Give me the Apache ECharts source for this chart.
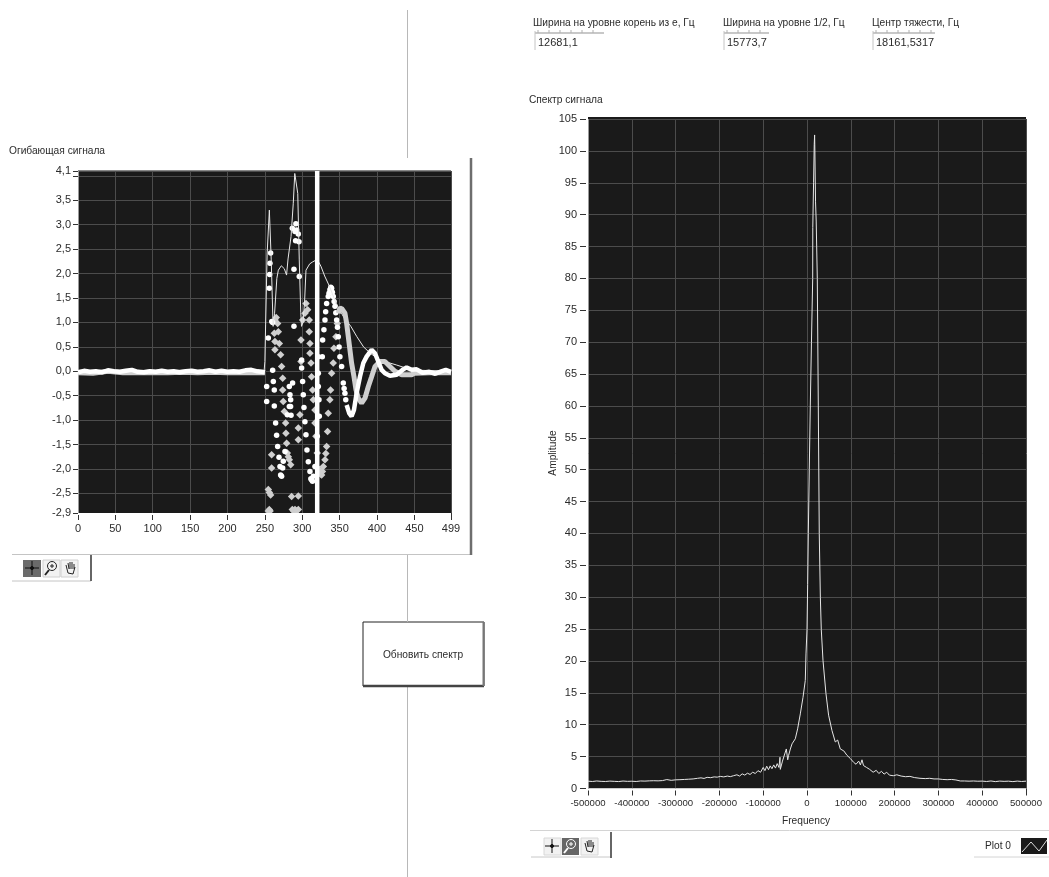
<!DOCTYPE html>
<html><head><meta charset="utf-8">
<style>html,body{margin:0;padding:0;background:#fff}#c{width:1049px;height:877px}</style>
<script src="https://cdn.jsdelivr.net/npm/echarts@6/dist/echarts.min.js"></script>
</head><body><div id="c"></div>
<script>
var envelope=[[0,0],[100,0.02],[200,0],[249,0.01],[250,0.2],[251,0.95],[253,2.4],[256,3.3],[257,3.34],[258.5,2.28],[261,0.92],[263,1.19],[266,1.9],[268,2.07],[272,2.16],[276,2.1],[279,1.97],[281,2.3],[285,2.76],[288,3.44],[290,4.05],[292,4.09],[294,3.64],[296,2.28],[298,1.2],[299,0.92],[301,1.0],[303,1.39],[305,2.07],[310,2.2],[314,2.24],[320,2.29],[325,2.15],[330,1.95],[337,1.72],[345,1.4],[355,1.12],[365,0.92],[373,0.71],[382,0.5],[391,0.37],[404,0.23],[415,0.18],[426,0.13],[440,0.06],[460,0.02],[499,0]];
var bandWhiteLeft=[[0,-0.02],[8,0.01],[16,-0.01],[24,0],[32,-0.02],[40,0.02],[48,0],[56,-0.01],[64,0.01],[72,0.03],[80,-0.01],[88,-0.02],[96,0],[104,-0.01],[112,0.01],[120,-0.01],[128,0],[136,-0.02],[144,0],[152,0.01],[160,-0.01],[168,0],[176,0.02],[184,-0.01],[192,0.01],[200,-0.01],[208,0],[216,-0.01],[224,0.02],[232,0.03],[240,0],[246,-0.01],[250,-0.02]];
var bandGreyLeft=[[0,-0.03],[20,-0.04],[40,0],[60,-0.03],[80,-0.03],[100,-0.03],[120,-0.03],[140,-0.02],[160,-0.03],[180,-0.02],[200,-0.03],[220,-0.03],[240,-0.03],[250,-0.03]];
var whiteDots=[[254.6,0.68],[255.9,1.7],[256.8,2.21],[257.7,2.42],[256.4,1.98],[260.4,1.0],[259.2,1.02],[260.4,0.02],[252.4,-0.31],[261.3,-0.21],[262.6,-0.38],[252.4,-0.62],[262.6,-0.71],[264.4,-1.06],[265.7,-1.31],[267.1,-1.54],[268.9,-1.76],[270.2,-1.95],[271.1,-2.12],[272.4,-2.15],[273.8,-1.98],[274.6,-1.84],[276.9,-1.64],[280,-0.89],[282.7,-0.72],[284.5,-0.58],[283.6,-0.48],[284.4,-0.72],[285,-0.9],[287.1,-0.24],[282.7,-0.31],[288.9,0.92],[288.9,2.09],[286.7,2.93],[290.3,2.86],[292.5,2.89],[291.5,3.02],[294.7,2.81],[295.6,2.65],[291.1,2.67],[296,1.94],[299.2,0.23],[299.2,0.07],[300.5,-0.21],[301.4,-0.48],[302.3,-0.74],[303.6,-1.03],[305,-1.3],[306.3,-1.61],[308.1,-1.85],[310.3,-2.05],[311.5,-2.2],[312.5,-2.22],[313.7,-2.25],[314.8,-2.15],[317,-1.95],[320.1,-1.33],[321.5,0.3],[321.5,-0.04],[321.5,-0.31],[322.4,-0.58],[322.8,-0.92],[326.8,0.3],[327.3,0.64],[329,0.85],[330.4,1.05],[331.3,1.22],[332.6,1.39],[334.8,1.53],[335.8,1.6],[337,1.67],[338.2,1.72],[339.3,1.7],[340.3,1.62],[341.5,1.53],[342.6,1.43],[343.8,1.33],[344.9,1.2],[346,1.05],[347.1,0.9],[348.2,0.71],[349.3,0.5],[350.4,0.3],[352.7,0.1],[354.9,-0.24],[356,-0.35],[357.1,-0.45],[358.2,-0.58]];
var whiteBandRight=[[359.4,-0.69],[362.9,-0.86],[366,-0.92],[369.2,-0.79],[372.7,-0.45],[377.2,-0.11],[381.7,0.17],[386.1,0.3],[392.8,0.44],[397.3,0.37],[401.7,0.2],[406.2,0.03],[410.6,-0.04],[417.3,-0.09],[426.3,-0.07],[435.2,0.04],[439.6,0.08],[446.3,0.03],[453,0.04],[461,-0.03],[470,-0.01],[478,-0.05],[486,0],[492,0.03],[499,-0.01]];
var greyDots=[[263.5,0.44],[263.5,0.61],[262.6,0.78],[263.5,1.05],[265.2,1.1],[267.1,0.98],[268,0.81],[269.3,0.57],[271.1,0.34],[272.4,0.1],[273.8,-0.14],[273.8,-0.38],[274.6,-0.62],[276,-0.82],[277.8,-1.06],[278.2,-1.27],[279.1,-1.47],[280,-1.67],[281.4,-1.75],[282.7,-1.81],[284.5,-1.91],[259,-1.71],[259,-1.98],[254.6,-2.42],[256,-2.48],[257.7,-2.53],[255.9,-2.83],[254.5,-2.86],[257,-2.86],[285.8,-2.56],[294.7,-2.55],[290.3,-2.83],[286.7,-2.83],[288.5,-2.86],[292,-2.86],[294.7,-2.83],[294.7,-1.16],[294.7,-1.4],[296.9,-0.89],[298.3,0.2],[298.3,0.64],[300.5,1.05],[303.6,1.19],[305,1.39],[307.2,1.26],[309.4,1.05],[309.4,0.81],[310.3,0.57],[310.3,0.37],[311.7,0.17],[312.5,-0.11],[313.9,-0.38],[314.8,-0.58],[317,-0.79],[317,-1.06],[318.3,-1.33],[320.1,-1.67],[322.8,-2.01],[324.5,-2.1],[325.9,-2.12],[327,-2.05],[328.2,-1.95],[330.4,-1.81],[331.5,-1.68],[332.6,-1.54],[333.9,-1.23],[334.8,-0.86],[337,-0.58],[337.9,-0.38],[339.3,-0.04],[341.5,0.17],[342.4,0.47],[345.1,0.71],[346.9,0.98]];
var greyBandRight=[[348.2,1.19],[350,1.28],[352.7,1.29],[355,1.25],[357.1,1.19],[359.4,0.98],[361.6,0.71],[363.8,0.44],[366,0.17],[369.2,-0.11],[371.9,-0.38],[375,-0.55],[379.4,-0.65],[383.9,-0.55],[388.4,-0.31],[392.8,-0.11],[397.3,0.1],[404,0.2],[410.6,0.2],[417.3,0.1],[424,0],[433,-0.07],[446.3,-0.07],[450,-0.04],[470,-0.03],[499,-0.03]];
var cursorX=[[320,-2.9],[320,4.1]];
var spectrum=[[-500000,1.15],[-490000,1.1],[-480000,1.18],[-470000,1.12],[-460000,1.1],[-450000,1.16],[-440000,1.12],[-430000,1.09],[-420000,1.17],[-410000,1.12],[-400000,1.14],[-390000,1.1],[-380000,1.18],[-370000,1.16],[-360000,1.2],[-350000,1.22],[-340000,1.2],[-330000,1.24],[-320000,1.4],[-310000,1.28],[-300000,1.36],[-290000,1.38],[-280000,1.42],[-270000,1.46],[-260000,1.5],[-250000,1.6],[-242000,1.67],[-235000,1.58],[-228000,1.75],[-220000,1.7],[-212000,1.82],[-205000,1.78],[-198000,1.9],[-190000,1.82],[-182000,1.95],[-175000,1.86],[-168000,2.0],[-160000,2.15],[-154000,1.95],[-148000,2.3],[-142000,2.1],[-136000,2.4],[-130000,2.2],[-124000,2.55],[-118000,2.35],[-112000,2.8],[-106000,2.55],[-100000,3.3],[-96000,2.8],[-92000,3.5],[-88000,2.95],[-84000,3.55],[-80000,3.1],[-76000,3.7],[-72000,3.2],[-68000,3.9],[-64000,3.3],[-61700,4.9],[-60900,3.0],[-56000,4.3],[-52000,4.1],[-47200,6.2],[-44000,4.5],[-42000,5.2],[-38000,6.2],[-34200,7.0],[-30000,7.1],[-26700,7.8],[-21400,9.36],[-15300,11.7],[-9100,14.3],[-3900,16.95],[-2300,21.1],[0,24.96],[1500,32],[3000,40],[5200,50],[7500,60],[10200,70],[13000,80],[13200,88],[15000,95],[16500,101],[17400,102.5],[18000,100],[19500,92],[21000,89],[22800,88.9],[23500,80],[25800,60],[28000,40],[30500,30],[32600,24.96],[36500,20.1],[43300,14.9],[49300,11.5],[57000,9.1],[64600,7.3],[70000,7.6],[76000,6.2],[84000,5.9],[91300,5.2],[99000,4.7],[106500,4.1],[112000,3.8],[118000,4.3],[122000,3.7],[125500,4.5],[129000,3.6],[136000,3.3],[143000,3.0],[151000,2.55],[158000,2.85],[164000,2.35],[170000,2.7],[176000,2.25],[182000,2.55],[188000,2.1],[197000,2.0],[205000,2.15],[215000,1.95],[225000,1.85],[235000,1.9],[245000,1.72],[258000,1.6],[270000,1.55],[280000,1.6],[290000,1.5],[300000,1.5],[310000,1.42],[320000,1.38],[330000,1.42],[340000,1.34],[350000,1.18],[360000,1.18],[370000,1.15],[380000,1.18],[390000,1.14],[400000,1.16],[410000,1.1],[420000,1.18],[430000,1.08],[440000,1.16],[450000,1.12],[460000,1.15],[470000,1.08],[480000,1.16],[490000,1.1],[500000,1.15]];
var numberTitles=["Ширина на уровне корень из е, Гц","Ширина на уровне 1/2, Гц","Центр тяжести, Гц"];
var numberValues=["12681,1","15773,7","18161,5317"];
var envTicks=[-2.9,-2.5,-2,-1.5,-1,-0.5,0,0.5,1,1.5,2,2.5,3,3.5,4,4.1];
var envLabels=[-2.9,-2.5,-2,-1.5,-1,-0.5,0,0.5,1,1.5,2,2.5,3,3.5,4.1];

var FONT='"Liberation Sans",sans-serif',INK='#2b2b2b',DARK='#1a1a1a',GRID='#4c4c4c';
function txt(x,y,s,o){o=o||{};return {type:'text',x:x,y:y,silent:true,z:o.z||50,rotation:o.rot||0,style:{text:s,fill:INK,font:(o.size||10.2)+'px '+FONT,align:o.align||'left',verticalAlign:'middle'}};}
function rect(x,y,w,h,fill,z,stroke){return {type:'rect',silent:true,z:z||50,shape:{x:x,y:y,width:w,height:h},style:{fill:fill,stroke:stroke||null,lineWidth:stroke?1:0}};}
function ln(a,b,c,d,col,w){return {type:'line',silent:true,z:51,shape:{x1:a,y1:b,x2:c,y2:d},style:{stroke:col,lineWidth:w||1}};}
function circ(x,y,r,col,fill){return {type:'circle',silent:true,z:52,shape:{cx:x,cy:y,r:r},style:{stroke:col,fill:fill||'none',lineWidth:1}};}
function cross(x,y,col){return [ln(x-7,y,x+7,y,col),ln(x,y-7,x,y+7,col),circ(x,y,1.5,col,col)];}
function zoomIcon(x,y,col){return [circ(x+1,y-2,4.5,col),ln(x-2,y+2,x-6,y+7,col,2),ln(x-1,y-2,x+3,y-2,col),ln(x+1,y-4,x+1,y,col)];}
function hand(x,y,col){return [ln(x-4,y-3,x-2,y+5,col),ln(x-2,y+5,x+3,y+6,col),ln(x+3,y+6,x+5,y-1,col),ln(x-2,y-5,x-1,y+1,col),ln(x,y-6,x,y+1,col),ln(x+2,y-6,x+2,y+1,col),ln(x+4,y-4,x+4,y+1,col)];}
function ruler(x,y,w){var r=[ln(x,y,x+w,y,'#c8c8c8',2),ln(x,y-2,x,y+17,'#c4c4c4')];for(var i=0;i<=w-6;i+=11)r.push(ln(x+i+3,y-3,x+i+3,y,'#b0b0b0'));return r;}

var g=[];
g.push(ln(407.5,10,407.5,158,'#b8b8b8'),ln(407.5,554,407.5,622,'#b8b8b8'),ln(407.5,686,407.5,877,'#b8b8b8'));
g.push(rect(363,622,121,64,'#fff',40,'#222'),ln(363,686,484,686,'#444',2.5),ln(483.5,622,483.5,686,'#777',2),txt(423,655,'Обновить спектр',{align:'center'}));
g.push(ln(12,554.5,471,554.5,'#c4c4c4'),ln(471,158,471,555,'#6e6e6e',2.5));
g.push(rect(23,560,18,17,'#6b6b6b',50),rect(43,560,17,17,'#f2f2f2',50,'#d0d0d0'),rect(61,560,17,17,'#f2f2f2',50,'#d0d0d0'));
g=g.concat(cross(32,568,'#111'),zoomIcon(51,568,'#222'),hand(70,568,'#222'));
g.push(ln(12,581,91,581,'#c4c4c4'),ln(91,555,91,581,'#666',2));
g.push(ln(530,830.5,1049,830.5,'#d4d4d4'));
g.push(rect(544,838,17,17,'#f2f2f2',50,'#d8d8d8'),rect(562,838,17,17,'#666',50),rect(581,838,17,17,'#f2f2f2',50,'#d8d8d8'));
g=g.concat(cross(552,846,'#111'),zoomIcon(570,846,'#fff'),hand(589,846,'#222'));
g.push(ln(531,857,611,857,'#c8c8c8'),ln(611,832,611,858,'#666',2));
g.push(txt(998,846,'Plot 0',{align:'center'}),rect(1021,838,26,16,DARK,50),ln(974,857,1049,857,'#d4d4d4'));
g.push({type:'polyline',silent:true,z:52,shape:{points:[[1022,852],[1031,842],[1039,851],[1047,840]]},style:{stroke:'#ddd',fill:'none',lineWidth:1}});
g.push(txt(9,151,'Огибающая сигнала'),txt(529,100,'Спектр сигнала'));
g.push(txt(533,23,numberTitles[0]),txt(723,23,numberTitles[1]),txt(872,23,numberTitles[2]));
g.push(txt(538,43,numberValues[0],{size:11}),txt(727,43,numberValues[1],{size:11}),txt(876,43,numberValues[2],{size:11}));
g=g.concat(ruler(535,33,69),ruler(724,33,45),ruler(873,33,62));
g.push(rect(588,117,438,2,DARK,1),rect(78,170,373,1,'#888',1));
g.push(rect(78,513,373,2,'#fff',6));
g.push(rect(588,788.5,438,2,'#fff',6),rect(586,119,2,671,'#fff',6));
g.push(txt(553,453,'Amplitude',{align:'center',rot:Math.PI/2}),txt(806,821,'Frequency',{align:'center'}));

function comma(v){return v.toFixed(1).replace('.',',');}
function plain(v){return String(v);}
function axis(idx,o){return Object.assign({type:'value',gridIndex:idx,
  axisLine:{show:true,onZero:false,lineStyle:{color:'#9a9a9a',width:1}},
  splitLine:{show:true,lineStyle:{color:GRID,width:1}}},o);}
function lab(margin,size,extra){return Object.assign({color:INK,fontFamily:FONT,fontSize:size,margin:margin,hideOverlap:false,showMinLabel:true,showMaxLabel:true,formatter:plain},extra||{});}
var thin=function(data,col,x,w){return {type:'line',xAxisIndex:x,yAxisIndex:x,data:data,showSymbol:false,silent:true,lineStyle:{color:col,width:w},animation:false};};
var dots=function(data,sym,size,col){return {type:'scatter',xAxisIndex:0,yAxisIndex:0,data:data,symbol:sym,symbolSize:size,silent:true,itemStyle:{color:col,opacity:1},animation:false};};
var opt={animation:false,backgroundColor:'#fff',
 grid:[{left:78,top:171,width:373,height:342,show:true,backgroundColor:DARK,borderWidth:0},
       {left:588,top:119,width:438,height:669.5,show:true,backgroundColor:DARK,borderWidth:0}],
 xAxis:[axis(0,{min:0,max:499,interval:50,axisTick:{length:7,lineStyle:{color:'#333'}},axisLabel:lab(10,11)}),
        axis(1,{min:-500000,max:500000,interval:100000,axisTick:{length:7,lineStyle:{color:'#333'}},axisLabel:lab(10,9.6)})],
 yAxis:[axis(0,{min:-2.9,max:4.1,axisTick:{length:5,customValues:envTicks,lineStyle:{color:'#333'}},
          splitLine:{show:true,customValues:envTicks,lineStyle:{color:GRID,width:1}},
          axisLabel:lab(7,11,{customValues:envLabels,formatter:comma})}),
        axis(1,{min:0,max:105,interval:5,axisTick:{length:8,lineStyle:{color:'#333'}},axisLabel:lab(11,11)})],
 series:[thin(envelope,'#e8e8e8',0,1),
   thin(bandGreyLeft,'#d0d0d0',0,5),dots(greyDots,'diamond',7.5,'#cfcfcf'),thin(greyBandRight,'#cfcfcf',0,5),
   thin(bandWhiteLeft,'#ffffff',0,4.5),dots(whiteDots,'circle',5.5,'#ffffff'),thin(whiteBandRight,'#ffffff',0,4.5),
   thin(cursorX,'#ffffff',0,4.5),
   thin(spectrum,'#e6e6e6',1,1)],
 graphic:{elements:g}};
var chart=echarts.init(document.getElementById('c'),null,{renderer:'canvas',width:1049,height:877});
chart.setOption(opt);
</script></body></html>
